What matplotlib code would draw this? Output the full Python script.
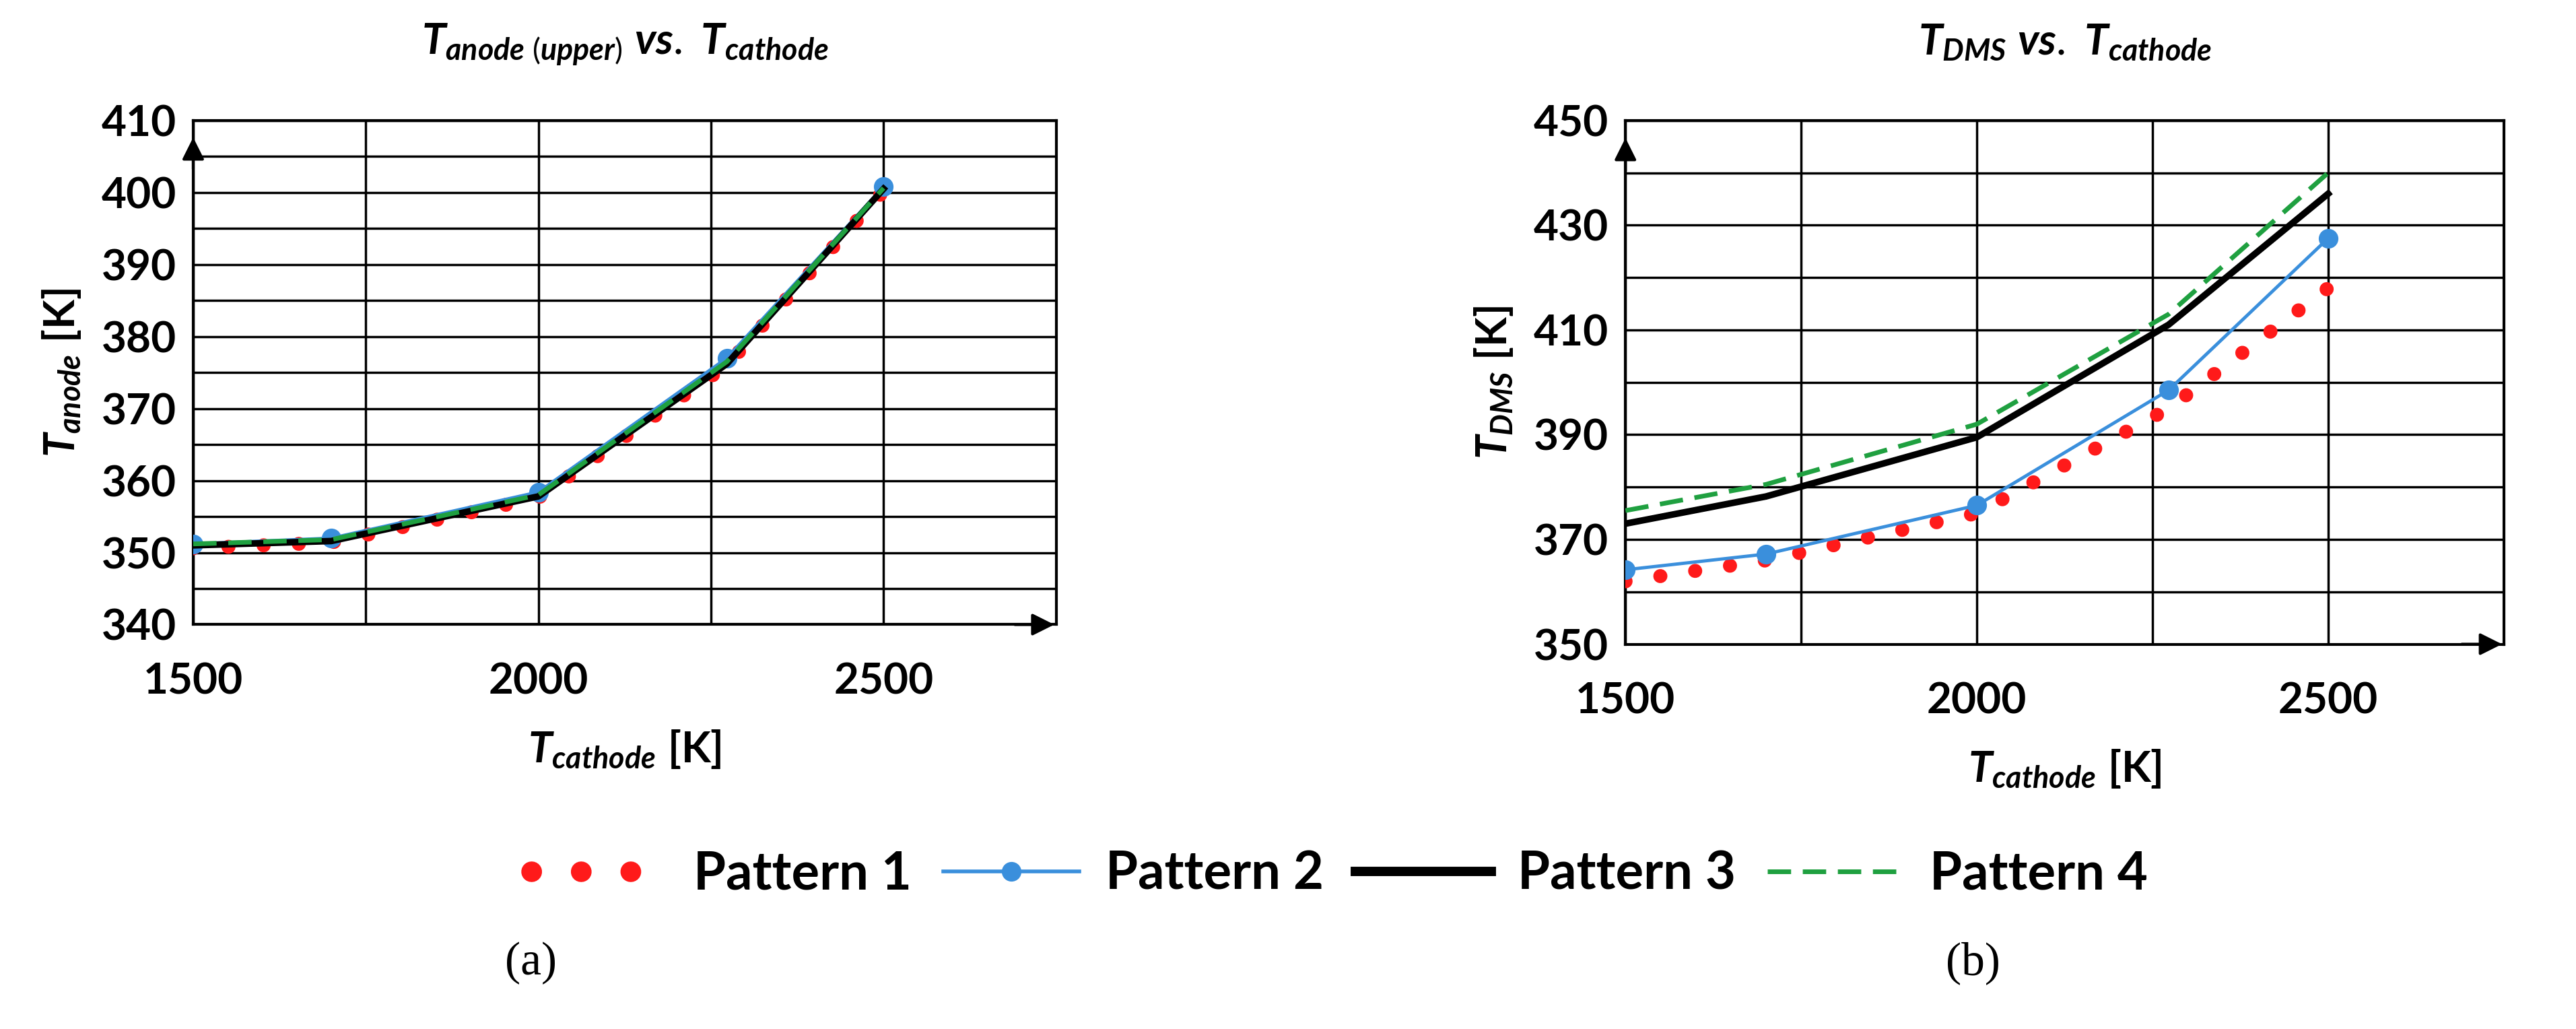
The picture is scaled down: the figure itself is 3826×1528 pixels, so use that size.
import matplotlib
matplotlib.use("Agg")
import matplotlib.pyplot as plt
from matplotlib.lines import Line2D
import numpy as np

plt.rcParams['font.family'] = ['Lato', 'DejaVu Sans']
plt.rcParams['mathtext.fontset'] = 'custom'
plt.rcParams['mathtext.rm'] = 'Lato'
plt.rcParams['mathtext.it'] = 'Lato:italic:bold'
plt.rcParams['mathtext.bf'] = 'Lato:bold'

x = [1500, 1700, 2000, 2273, 2500]
# (a) T_anode
a_p1 = [350.6, 351.4, 357.6, 376.0, 400.2]
a_p2 = [351.2, 352.0, 358.4, 377.0, 400.8]
a_p3 = [351.0, 351.6, 357.8, 376.2, 400.5]
a_p4 = [351.2, 351.8, 358.0, 376.5, 400.6]
# (b) T_DMS
b_p1 = [362.0, 366.0, 375.0, 395.0, 418.0]
b_p2 = [364.2, 367.2, 376.5, 398.5, 427.5]
b_p3 = [373.0, 378.2, 389.5, 411.0, 436.0]
b_p4 = [375.5, 380.5, 392.0, 413.0, 440.0]
labels = ['Pattern 1', 'Pattern 2', 'Pattern 3', 'Pattern 4']

fig = plt.figure(figsize=(38.26, 15.28), dpi=100)
axa = fig.add_axes([0.075, 0.393, 0.335, 0.49])
axb = fig.add_axes([0.631, 0.374, 0.341, 0.509])

def draw(ax, ys, ylim, ystep, title, ylabel):
    p1, p2, p3, p4 = ys
    ax.plot(x, p1, color='#ff1a1a', lw=15, linestyle=(0, (0.01, 2.5)),
            dash_capstyle='round', zorder=3)
    ax.plot(x, p2, color='#3a8fdc', lw=3.5, marker='o', ms=20, zorder=4)
    ax.plot(x, p3, color='black', lw=7, zorder=5)
    ax.plot(x, p4, color='#1fa040', lw=5, linestyle=(0, (5, 2.5)), zorder=6)
    ax.set_xlim(1500, 2750)
    ax.set_ylim(*ylim)
    ax.set_xticks([1500, 2000, 2500])
    ax.set_xticks([1750, 2250, 2750], minor=True)
    ax.set_yticks(np.arange(ylim[0], ylim[1] + 0.1, ystep))
    ax.set_yticks(np.arange(ylim[0], ylim[1] + 0.1, ystep / 2), minor=True)
    ax.tick_params(which='both', length=0, labelsize=46, pad=18)
    ax.tick_params(axis='x', pad=40)
    ax.grid(True, which='both', color='black', lw=2.5)
    for s in ax.spines.values():
        s.set_linewidth(3)
    ax.set_title(title, fontsize=46, pad=70)
    ax.set_ylabel(ylabel, fontsize=46, labelpad=20)
    ax.set_xlabel(r'$T_{cathode}$ $\mathbf{[K]}$', fontsize=46, labelpad=30)
    ax.annotate('', xy=(1.0, 0), xycoords='axes fraction', xytext=(0.95, 0),
                arrowprops=dict(arrowstyle='-|>', color='black', lw=3, mutation_scale=50))
    ax.annotate('', xy=(0, 0.97), xycoords='axes fraction', xytext=(0, 0.9),
                arrowprops=dict(arrowstyle='-|>', color='black', lw=3, mutation_scale=50))

draw(axa, (a_p1, a_p2, a_p3, a_p4), (340, 410), 10,
     r'$T_{anode\ (upper)}$ $\mathit{vs.}$ $T_{cathode}$', r'$T_{anode}$ $\mathbf{[K]}$')
draw(axb, (b_p1, b_p2, b_p3, b_p4), (350, 450), 20,
     r'$T_{DMS}$ $\mathit{vs.}$ $T_{cathode}$', r'$T_{DMS}$ $\mathbf{[K]}$')
for ax in (axa, axb):
    for t in ax.get_yticklabels() + ax.get_xticklabels():
        t.set_fontweight('bold')

handles = [
    Line2D([], [], color='#ff1a1a', lw=22, linestyle=(0, (0.01, 2.4)), dash_capstyle='round'),
    Line2D([], [], color='#3a8fdc', lw=4, marker='o', ms=20),
    Line2D([], [], color='black', lw=10),
    Line2D([], [], color='#1fa040', lw=5, linestyle=(0, (5, 2.5))),
]
fig.legend(handles, labels, loc='center', bbox_to_anchor=(0.52, 0.15), ncol=4,
           frameon=False, prop={'size': 56, 'weight': 'bold'}, handlelength=2.6,
           columnspacing=0.6, handletextpad=0.5)
fig.text(0.206, 0.064, '(a)', fontsize=50, ha='center', va='center', family='Liberation Serif')
fig.text(0.766, 0.064, '(b)', fontsize=50, ha='center', va='center', family='Liberation Serif')
fig.savefig('out.png', dpi=100, facecolor='white')
